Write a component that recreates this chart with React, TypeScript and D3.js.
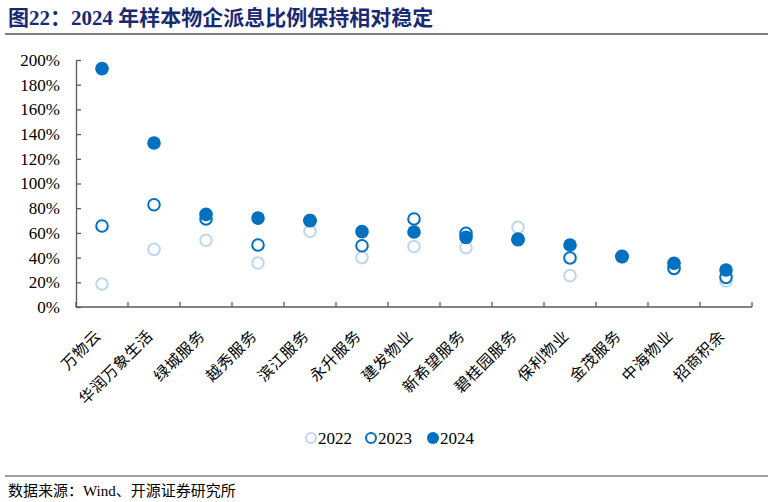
import * as React from 'react';
import {useEffect, useRef} from 'react';
import * as d3 from 'd3';

const categories = ['万物云', '华润万象生活', '绿城服务', '越秀服务', '滨江服务', '永升服务', '建发物业',
  '新希望服务', '碧桂园服务', '保利物业', '金茂服务', '中海物业', '招商积余'];
const v2022 = [18.6, 46.7, 54, 35.6, 61.3, 40, 49, 48, 64.5, 25.4, 41, 31, 21];
const v2023 = [65.6, 82.8, 71.3, 50.2, 70, 49.6, 71.3, 59.6, 55, 39.7, 41, 31.3, 24];
const v2024 = [193, 132.8, 75, 72, 69.9, 61, 60.7, 56.4, 54.5, 50.2, 40.7, 35.4, 30];
const yTicks = [0, 20, 40, 60, 80, 100, 120, 140, 160, 180, 200];
const seriesNames = ['2022', '2023', '2024'];

const W = 774;
const H = 502;
const serif = '"Liberation Serif", "Times New Roman", "Noto Sans CJK SC", serif';

const styles = [
  {fill: 'white', stroke: '#BDD7EE'},
  {fill: 'white', stroke: '#0070C0'},
  {fill: '#0070C0', stroke: '#0070C0'},
];

const App = () => {
  const ref = useRef<SVGSVGElement>(null);

  useEffect(() => {
    document.body.style.margin = '0';
    const svg = d3.select(ref.current);
    svg.selectAll('*').remove();

    const x = d3.scaleBand<string>().domain(categories).range([76, 752]);
    const y = d3.scaleLinear().domain([0, 200]).range([307, 60]);

    // title
    svg.append('text')
      .attr('x', 8).attr('y', 25)
      .attr('font-family', serif).attr('font-size', 21).attr('font-weight', 'bold')
      .attr('fill', '#1a2a72')
      .text('图22：2024 年样本物企派息比例保持相对稳定');
    svg.append('line')
      .attr('x1', 5).attr('x2', 768).attr('y1', 34).attr('y2', 34)
      .attr('stroke', '#7f7f7f').attr('stroke-width', 2);

    // y axis
    const yAxis = svg.append('g')
      .attr('transform', 'translate(76,0)')
      .call(d3.axisLeft(y).tickValues(yTicks).tickSize(-5).tickSizeOuter(0).tickPadding(16)
        .tickFormat(d => `${d}%`))
      .attr('font-family', serif)
      .attr('font-size', 17);
    yAxis.select('.domain').attr('stroke', '#595959').attr('stroke-width', 1.3);
    yAxis.selectAll('.tick line').attr('stroke', '#595959').attr('stroke-width', 1.3);
    yAxis.selectAll('.tick text').attr('fill', '#000');

    // x axis
    const xAxis = svg.append('g');
    xAxis.append('line')
      .attr('x1', 76).attr('x2', 752).attr('y1', y(0)).attr('y2', y(0))
      .attr('stroke', '#595959').attr('stroke-width', 1.3);
    xAxis.selectAll('line.tick')
      .data(d3.range(categories.length + 1))
      .join('line')
      .attr('class', 'tick')
      .attr('x1', i => x.range()[0] + i * x.step())
      .attr('x2', i => x.range()[0] + i * x.step())
      .attr('y1', y(0)).attr('y2', y(0) - 5)
      .attr('stroke', '#595959').attr('stroke-width', 1.3);
    xAxis.selectAll('text')
      .data(categories)
      .join('text')
      .attr('transform', d => `translate(${x(d)! + x.bandwidth() / 2 - 4},333) rotate(-45)`)
      .attr('text-anchor', 'end')
      .attr('dominant-baseline', 'central')
      .attr('font-family', serif).attr('font-size', 15.5)
      .attr('letter-spacing', 0.6)
      .attr('fill', '#000')
      .text(d => d);

    // points
    [v2022, v2023, v2024].forEach((vals, s) => {
      svg.append('g')
        .selectAll('circle')
        .data(vals)
        .join('circle')
        .attr('cx', (_, i) => x(categories[i])! + x.bandwidth() / 2)
        .attr('cy', d => y(d))
        .attr('r', s === 2 ? 6.8 : 5.8)
        .attr('fill', styles[s].fill)
        .attr('stroke', styles[s].stroke)
        .attr('stroke-width', s === 2 ? 0 : 2);
    });

    // legend
    const legendX = [311, 371, 433];
    const legend = svg.append('g')
      .selectAll('g')
      .data(seriesNames)
      .join('g')
      .attr('transform', (_, i) => `translate(${legendX[i]},438)`);
    legend.append('circle')
      .attr('r', (_, i) => i === 2 ? 6 : 5)
      .attr('fill', (_, i) => styles[i].fill)
      .attr('stroke', (_, i) => styles[i].stroke)
      .attr('stroke-width', (_, i) => i === 2 ? 0 : 2);
    legend.append('text')
      .attr('x', 7).attr('dy', '0.35em')
      .attr('font-family', serif).attr('font-size', 17)
      .attr('fill', '#000')
      .text(d => d);

    // footer
    svg.append('line')
      .attr('x1', 5).attr('x2', 768).attr('y1', 476).attr('y2', 476)
      .attr('stroke', '#7f7f7f').attr('stroke-width', 1.5);
    svg.append('text')
      .attr('x', 8).attr('y', 496)
      .attr('font-family', serif).attr('font-size', 15)
      .attr('fill', '#000')
      .text('数据来源：Wind、开源证券研究所');
  }, []);

  return (
    <svg ref={ref} width={W} height={H} style={{display: 'block', background: 'white'}}/>
  );
};

export default App;
